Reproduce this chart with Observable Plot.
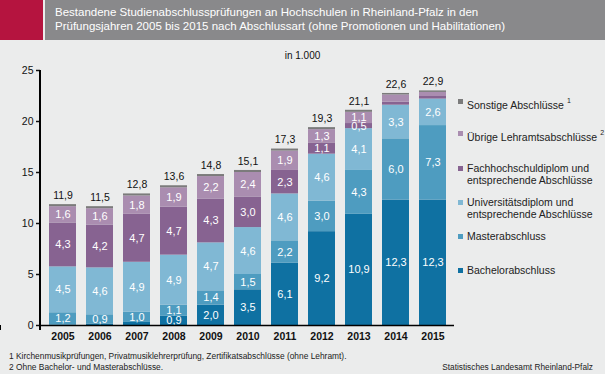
<!DOCTYPE html>
<html><head><meta charset="utf-8">
<script src="https://cdn.jsdelivr.net/npm/d3@7"></script>
<script src="https://cdn.jsdelivr.net/npm/@observablehq/plot@0.6"></script>
<style>
body{margin:0;background:#ebebeb;}
#wrap{position:relative;width:605px;height:374px;background:#ebecec;font-family:"Liberation Sans",Arial,sans-serif;overflow:hidden;}
#red{position:absolute;left:0;top:0;width:43px;height:40px;background:#b5143f;}
#head{position:absolute;left:45px;top:0;width:560px;height:40px;background:#89898b;color:#fff;font-size:11.5px;line-height:14px;box-sizing:border-box;padding:5px 0 0 10px;}
#unit{position:absolute;left:0;width:605px;top:50px;text-align:center;font-size:10px;color:#111;}
#chart{position:absolute;left:0;top:46px;}
.leg{position:absolute;left:458px;font-size:10.5px;color:#222;line-height:12px;}
.leg i{position:absolute;left:0;top:4px;width:5px;height:5px;}
.leg span{display:block;padding-left:9px;}
.leg sup{font-size:7px;vertical-align:6px;margin-left:3px;}
#fn{position:absolute;left:9px;top:351px;font-size:8.4px;line-height:11px;color:#222;}
#src{position:absolute;right:12px;top:362px;font-size:8.3px;color:#222;}
</style></head><body>
<div id="wrap">
  <div id="red"></div>
  <div id="head">Bestandene Studienabschlussprüfungen an Hochschulen in Rheinland-Pfalz in den<br>Prüfungsjahren 2005 bis 2015 nach Abschlussart (ohne Promotionen und Habilitationen)</div>
  <div id="unit">in 1.000</div>
  <div id="chart"></div>
  <div id="legend"></div>
  <div id="fn">1 Kirchenmusikprüfungen, Privatmusiklehrerprüfung, Zertifikatsabschlüsse (ohne Lehramt).<br>2 Ohne Bachelor- und Masterabschlüsse.</div>
  <div id="src">Statistisches Landesamt Rheinland-Pfalz</div>
</div>
<script>
const years = ["2005","2006","2007","2008","2009","2010","2011","2012","2013","2014","2015"];
const categories = ["Bachelorabschluss","Masterabschluss","Universitätsdiplom und entsprechende Abschlüsse","Fachhochschuldiplom und entsprechende Abschlüsse","Übrige Lehramtsabschlüsse","Sonstige Abschlüsse"];
const legendLabels = ["Bachelorabschluss","Masterabschluss","Universitätsdiplom und<br>entsprechende Abschlüsse","Fachhochschuldiplom und<br>entsprechende Abschlüsse","Übrige Lehramtsabschlüsse<sup>2</sup>","Sonstige Abschlüsse<sup>1</sup>"];
const bachelor  = [0.05, 0.15, 0.3, 0.9, 2.0, 3.5, 6.1, 9.2, 10.9, 12.3, 12.3];
const master    = [1.2, 0.9, 1.0, 1.1, 1.4, 1.5, 2.2, 3.0, 4.3, 6.0, 7.3];
const uni       = [4.5, 4.6, 4.9, 4.9, 4.7, 4.6, 4.6, 4.6, 4.1, 3.3, 2.6];
const fh        = [4.3, 4.2, 4.7, 4.7, 4.3, 3.0, 2.3, 1.1, 0.5, 0.3, 0.25];
const lehramt   = [1.6, 1.6, 1.8, 1.9, 2.2, 2.4, 1.9, 1.3, 1.1, 0.7, 0.4];
const sonstige  = [0.2, 0.2, 0.2, 0.2, 0.2, 0.2, 0.2, 0.2, 0.2, 0.15, 0.15];
const totals    = [11.9, 11.5, 12.8, 13.6, 14.8, 15.1, 17.3, 19.3, 21.1, 22.6, 22.9];
const hiddenLabels = ["2014|Übrige Lehramtsabschlüsse"];
const colors = ["#0f71a2","#4e9cc0","#80b8d4","#876391","#aa8db0","#7b7b7b"];
const yTicks = [0, 5, 10, 15, 20, 25];
const legendTops = [264, 230, 196, 162, 127, 95];

const series = [bachelor, master, uni, fh, lehramt, sonstige];
const data = [];
years.forEach((yr, i) => categories.forEach((c, j) => data.push({year: yr, cat: c, value: series[j][i]})));
const totalData = years.map((yr, i) => ({year: yr, total: totals[i], top: d3.sum(series, s => s[i])}));
const fmt = v => v.toFixed(1).replace(".", ",");

const padIn = 0.28;
// category boundary ticks drawn from the x scale
function boundaryTicks(index, scales, values, dims) {
  const x = scales.x, y = scales.y;
  const bw = x.bandwidth;
  const step = x(years[1]) - x(years[0]);
  const gap = (step - bw) / 2;
  const xs = years.map(yr => x(yr) - gap).concat([x(years[years.length - 1]) + bw + gap]);
  const g = d3.create("svg:g");
  g.selectAll("line").data(xs).join("line")
    .attr("x1", d => d).attr("x2", d => d)
    .attr("y1", y(0)).attr("y2", y(0) + 5)
    .attr("stroke", "#000").attr("stroke-width", 1.5);
  return g.node();
}

const chart = Plot.plot({
  width: 605, height: 304,
  marginLeft: 40, marginRight: 151, marginTop: 24, marginBottom: 25,
  style: {background: "transparent", fontFamily: "Liberation Sans, Arial, sans-serif", fontSize: "10px", color: "#111"},
  x: {domain: years, paddingInner: padIn, paddingOuter: padIn / 2, label: null},
  y: {domain: [0, 25], label: null},
  color: {domain: categories, range: colors},
  marks: [
    Plot.barY(data, {x: "year", y: "value", fill: "cat", order: categories}),
    Plot.text(data, Plot.stackY({x: "year", y: "value", z: "cat", order: categories,
      text: d => (d.value >= 0.5 && !hiddenLabels.includes(d.year + "|" + d.cat)) ? fmt(d.value) : "",
      fill: "white", fontSize: 11})),
    Plot.text(totalData, {x: "year", y: "top", text: d => fmt(d.total), dy: -9, fill: "#111", fontSize: 10.5}),
    Plot.axisY({ticks: yTicks, tickSize: 4, tickPadding: 3, tickFormat: d => d, fontSize: 10.5, strokeWidth: 1.5}),
    Plot.axisX({tickSize: 0, tickPadding: 7, fontSize: 10.5, fontWeight: "bold"}),
    Plot.ruleY([0], {stroke: "#000", strokeWidth: 1.5}),
    boundaryTicks
  ]
});
document.getElementById("chart").appendChild(chart);

// legend
const leg = document.getElementById("legend");
categories.forEach((c, j) => {
  const d = document.createElement("div");
  d.className = "leg";
  d.style.top = legendTops[j] + "px";
  d.innerHTML = `<i style="background:${colors[j]}"></i><span>${legendLabels[j]}</span>`;
  leg.appendChild(d);
});
</script>
<script>
// left axis line using the plot's y scale
(function(){
  const chart = document.querySelector("#chart svg");
  const y = chart.scale("y"), x = chart.scale("x");
  const ns = "http://www.w3.org/2000/svg";
  const l = document.createElementNS(ns, "line");
  const x0 = x.range[0];
  l.setAttribute("x1", x0); l.setAttribute("x2", x0);
  l.setAttribute("y1", y.apply(25)); l.setAttribute("y2", y.apply(0) + 5);
  l.setAttribute("stroke", "#000"); l.setAttribute("stroke-width", 2);
  chart.appendChild(l);
})();
</script>
</body></html>
